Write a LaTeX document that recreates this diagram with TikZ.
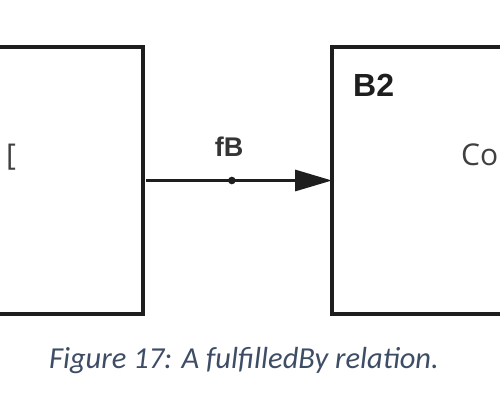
\documentclass[tikz,border=0pt]{standalone}
\usepackage{fontspec}
\setmainfont{Liberation Sans}
\newfontfamily\boxfont{Open Sans}
\newfontfamily\capfont{Carlito}
\usetikzlibrary{arrows.meta}
\definecolor{capcol}{HTML}{3E4D66}
\definecolor{ink}{HTML}{1E1E1E}
\tikzset{
  blockbox/.style={draw=ink, line width=3.4pt, fill=white, inner sep=0pt, outer sep=0pt},
  boxtitle/.style={font=\fontsize{32}{32}\selectfont\bfseries, text=ink, anchor=base west, inner sep=0pt},
  boxtext/.style={font=\boxfont\fontsize{30}{30}\selectfont, text=ink!85, anchor=base west, inner sep=0pt},
  rel/.style={draw=ink, line width=3.2pt, -{Triangle[length=37pt,width=21pt]}},
  rellabel/.style={font=\fontsize{27}{27}\selectfont\bfseries, text=ink!90, inner sep=0pt},
  caption/.style={font=\capfont\itshape\fontsize{30.5}{30.5}\selectfont, text=capcol, anchor=base, inner sep=0pt}
}
\begin{document}
\begin{tikzpicture}[x=1pt,y=-1pt]
\useasboundingbox (0,0) rectangle (500,411);
\clip (0,0) rectangle (500,411);
\node[blockbox, minimum width=343pt, minimum height=267pt] (L) at (-28.5,180.5) {};
\node[blockbox, minimum width=300pt, minimum height=267pt] (R) at (482,180.5) {};
\node[boxtext] (Ltxt) at (6,166) {[};
\node[boxtitle] (Rtitle) at (353,97) {B2};
\node[boxtext] (Rtxt) at (461,165.5) {Co};
\draw[rel, shorten <=3pt] (L.east) -- (R.west) coordinate[pos=0.47] (mid);
\fill[ink] (mid) circle (3.8pt);
\node[rellabel] (lab) at (229,147) {fB};
\node[caption] (cap) at (244,368) {Figure 17: A fulfilledBy relation.};
\end{tikzpicture}
\end{document}
